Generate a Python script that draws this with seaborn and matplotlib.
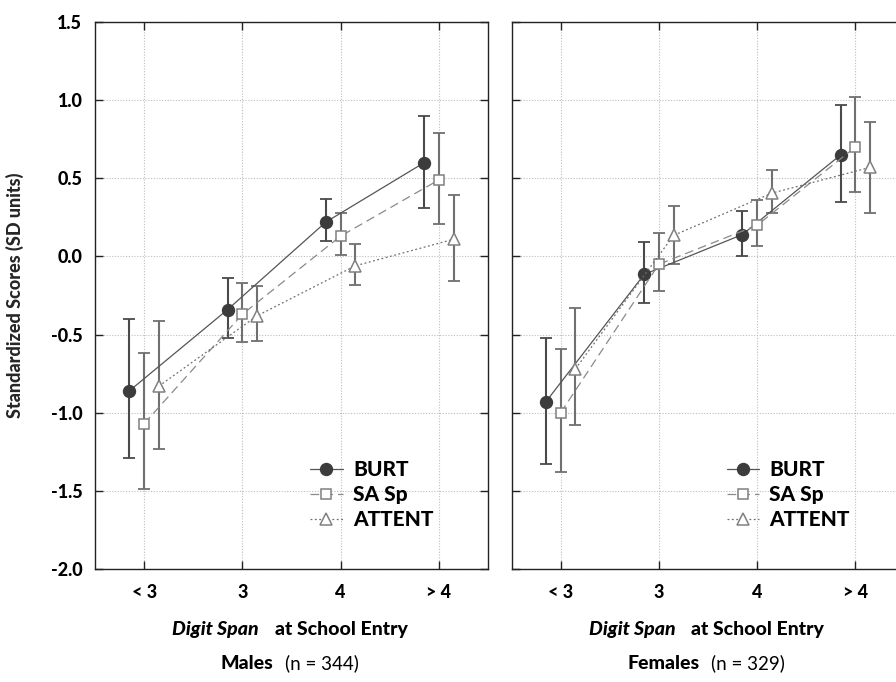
import numpy as np
import pandas as pd
import matplotlib
matplotlib.use("Agg")
import matplotlib.pyplot as plt
import seaborn as sns

categories = ["< 3", "3", "4", "> 4"]
series = ["BURT", "SA Sp", "ATTENT"]

# Males (n = 344)
males_mean = {
    "BURT":   [-0.86, -0.34, 0.22, 0.60],
    "SA Sp":  [-1.07, -0.37, 0.13, 0.49],
    "ATTENT": [-0.83, -0.38, -0.06, 0.11],
}
males_lo = {
    "BURT":   [-1.29, -0.52, 0.10, 0.31],
    "SA Sp":  [-1.49, -0.55, 0.01, 0.21],
    "ATTENT": [-1.23, -0.54, -0.18, -0.16],
}
males_hi = {
    "BURT":   [-0.40, -0.14, 0.37, 0.90],
    "SA Sp":  [-0.62, -0.17, 0.28, 0.79],
    "ATTENT": [-0.41, -0.19, 0.08, 0.39],
}

# Females (n = 329)
females_mean = {
    "BURT":   [-0.93, -0.115, 0.14, 0.65],
    "SA Sp":  [-1.00, -0.05, 0.20, 0.70],
    "ATTENT": [-0.72, 0.135, 0.405, 0.57],
}
females_lo = {
    "BURT":   [-1.33, -0.30, 0.00, 0.35],
    "SA Sp":  [-1.38, -0.22, 0.07, 0.41],
    "ATTENT": [-1.08, -0.05, 0.28, 0.28],
}
females_hi = {
    "BURT":   [-0.52, 0.094, 0.29, 0.97],
    "SA Sp":  [-0.59, 0.15, 0.36, 1.02],
    "ATTENT": [-0.33, 0.32, 0.55, 0.86],
}

panels = [
    ("Males", "(n = 344)", males_mean, males_lo, males_hi),
    ("Females", "(n = 329)", females_mean, females_lo, females_hi),
]

styles = {
    "BURT":   dict(offset=-0.15, ls="-", lc="#555555", marker="o", mfc="#3c3c3c",
                   mec="#3c3c3c", ms=8.5, ecol="#4a4a4a"),
    "SA Sp":  dict(offset=0.0, ls=(0, (7, 4)), lc="#8a8a8a", marker="s", mfc="white",
                   mec="#808080", ms=7.5, ecol="#707070"),
    "ATTENT": dict(offset=0.15, ls=(0, (1.5, 2)), lc="#707070", marker="^", mfc="white",
                   mec="#808080", ms=8, ecol="#707070"),
}

sns.set_style("ticks")
plt.rcParams["font.family"] = ["Lato", "DejaVu Sans"]
plt.rcParams["axes.unicode_minus"] = False
plt.rcParams["text.color"] = "black"
HEAVY = 900

fig = plt.figure(figsize=(8.96, 6.82), dpi=100)
ax_w, ax_h = 0.4386, 0.802
axes = [fig.add_axes([0.106, 0.1657, ax_w, ax_h]),
        fig.add_axes([0.5709, 0.1657, ax_w, ax_h])]

label_pairs = []
x = np.arange(len(categories))
for ax, (sex, n_txt, mean, lo, hi) in zip(axes, panels):
    for name in series:
        st = styles[name]
        xs = x + st["offset"]
        m = np.array(mean[name])
        yerr = [m - np.array(lo[name]), np.array(hi[name]) - m]
        ax.errorbar(xs, m, yerr=yerr, fmt="none", ecolor=st["ecol"], elinewidth=1.5,
                    capsize=4.4, capthick=1.3, zorder=2)
        df = pd.DataFrame({"x": xs, "y": m})
        sns.lineplot(data=df, x="x", y="y", ax=ax, color=st["lc"], linestyle=st["ls"],
                     linewidth=0.9, marker=st["marker"], markersize=st["ms"],
                     markerfacecolor=st["mfc"], markeredgecolor=st["mec"],
                     markeredgewidth=1.1, label=name, zorder=3)

    ax.set_xlim(-0.5, 3.5)
    ax.set_ylim(-2.0, 1.5)
    ax.set_xticks(x)
    ax.set_xticklabels(categories)
    ax.set_yticks(np.arange(-2.0, 1.51, 0.5))
    ax.grid(True, linestyle=(0, (1, 1.5)), color="#bdbdbd", linewidth=0.8)
    ax.tick_params(direction="in", length=6, width=1, color="#222222",
                   labelcolor="black", top=True, right=True, labelsize=13)
    ax.tick_params(axis="x", pad=11)
    ax.tick_params(axis="y", pad=9)
    for lab in ax.get_xticklabels() + ax.get_yticklabels():
        lab.set_fontweight(HEAVY)
    for sp in ax.spines.values():
        sp.set_visible(True)
        sp.set_color("#222222")
        sp.set_linewidth(1.0)
    ax.set_xlabel("")
    ax.set_ylabel("")

    ax.legend(loc="lower left", bbox_to_anchor=(0.50, 0.038), frameon=False,
              handlelength=1.55, handletextpad=0.5, labelspacing=0.3,
              prop=dict(weight=HEAVY, size=15))

    # x label: "Digit Span" bold italic + "at School Entry" bold
    t1 = ax.text(0.3, -0.1115, "Digit Span", transform=ax.transAxes, ha="left",
                 va="center", fontsize=14, fontweight=HEAVY, fontstyle="italic")
    t1b = ax.text(0.3, -0.1115, "at School Entry", transform=ax.transAxes, ha="left",
                  va="center", fontsize=14, fontweight=HEAVY)
    t2 = ax.text(0.3, -0.172, sex, transform=ax.transAxes, ha="left", va="center",
                 fontsize=14, fontweight=HEAVY)
    t2b = ax.text(0.3, -0.172, n_txt, transform=ax.transAxes, ha="left", va="center",
                  fontsize=13.5)
    label_pairs.append((ax, t1, t1b, 16, 0.496))
    label_pairs.append((ax, t2, t2b, 12, 0.495))

axes[1].tick_params(labelleft=False)
axes[0].set_ylabel("Standardized Scores (SD units)", fontsize=13, fontweight=HEAVY,
                   labelpad=19)

# centre each two-part label under its panel
fig.canvas.draw()
renderer = fig.canvas.get_renderer()
for ax, a, b, gap, centre in label_pairs:
    wa = a.get_window_extent(renderer).width
    wb = b.get_window_extent(renderer).width
    axw = ax.get_window_extent(renderer).width
    total = (wa + gap + wb) / axw
    start = centre - total / 2
    a.set_x(start)
    b.set_x(start + (wa + gap) / axw)

fig.savefig("out.png", dpi=100)
